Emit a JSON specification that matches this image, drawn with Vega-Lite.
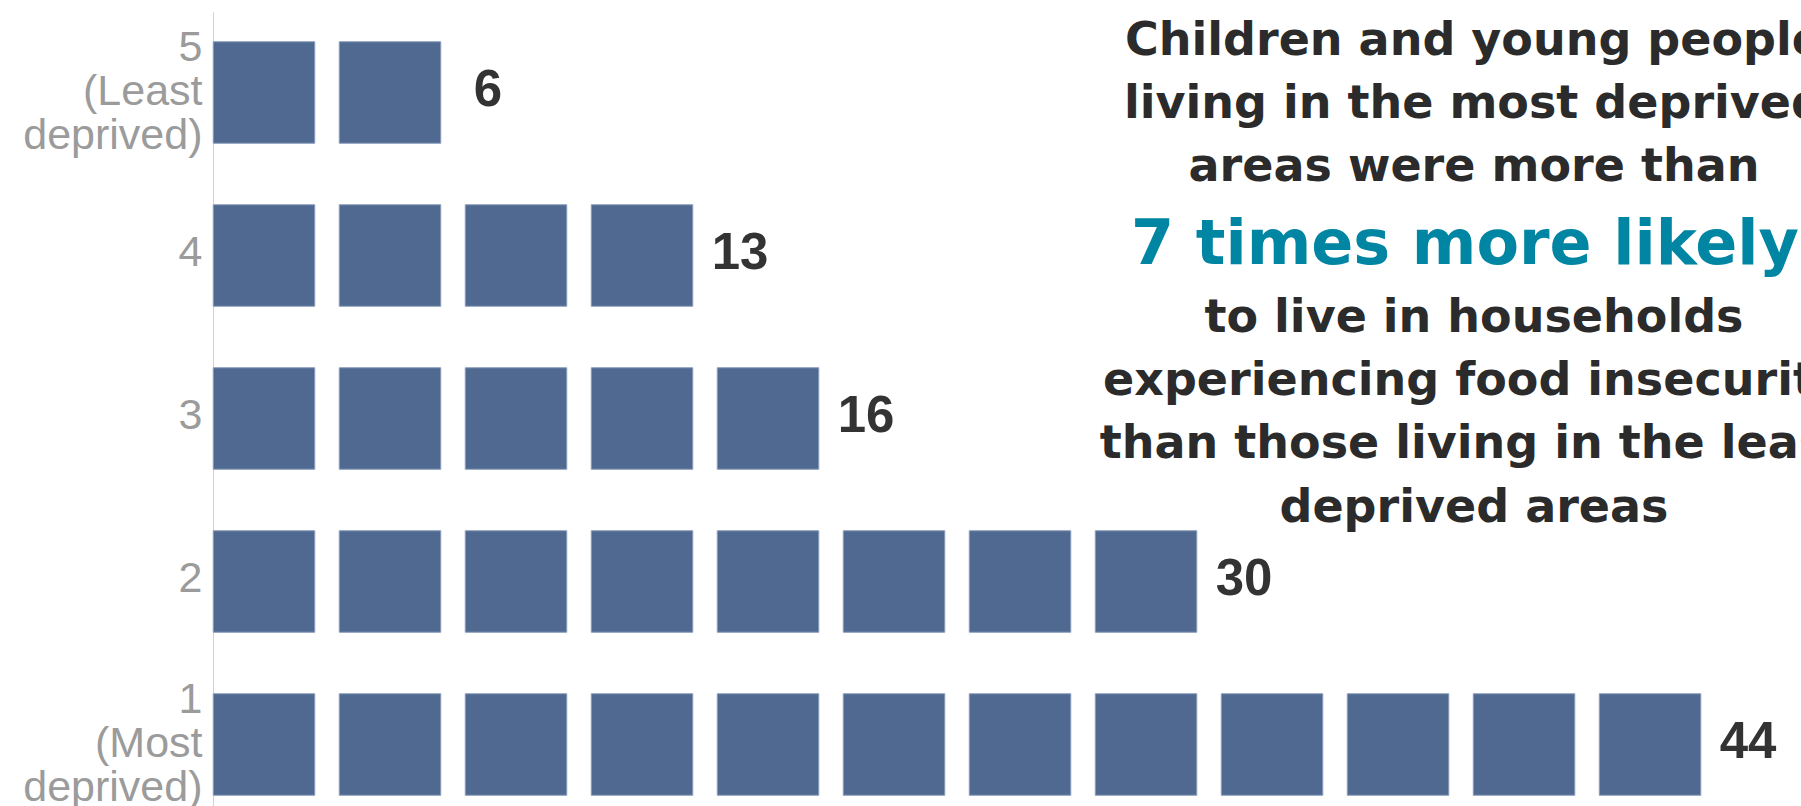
{
  "$schema": "https://vega.github.io/schema/vega-lite/v6.json",
  "width": 1588,
  "height": 794,
  "autosize": {"type": "none"},
  "padding": {"left": 213, "top": 12, "right": 0, "bottom": 0},
  "background": "white",
  "config": {"view": {"stroke": null}},
  "datasets": {
    "squares": [
      {"level": 5, "col": 1}, {"level": 5, "col": 2},
      {"level": 4, "col": 1}, {"level": 4, "col": 2}, {"level": 4, "col": 3}, {"level": 4, "col": 4},
      {"level": 3, "col": 1}, {"level": 3, "col": 2}, {"level": 3, "col": 3}, {"level": 3, "col": 4}, {"level": 3, "col": 5},
      {"level": 2, "col": 1}, {"level": 2, "col": 2}, {"level": 2, "col": 3}, {"level": 2, "col": 4}, {"level": 2, "col": 5}, {"level": 2, "col": 6}, {"level": 2, "col": 7}, {"level": 2, "col": 8},
      {"level": 1, "col": 1}, {"level": 1, "col": 2}, {"level": 1, "col": 3}, {"level": 1, "col": 4}, {"level": 1, "col": 5}, {"level": 1, "col": 6}, {"level": 1, "col": 7}, {"level": 1, "col": 8}, {"level": 1, "col": 9}, {"level": 1, "col": 10}, {"level": 1, "col": 11}, {"level": 1, "col": 12}
    ],
    "levels": [
      {"level": 5, "value": 6, "squares": 2},
      {"level": 4, "value": 13, "squares": 4},
      {"level": 3, "value": 16, "squares": 5},
      {"level": 2, "value": 30, "squares": 8},
      {"level": 1, "value": 44, "squares": 12}
    ]
  },
  "layer": [
    {
      "data": {"name": "squares"},
      "mark": {"type": "point", "shape": "square", "filled": true, "size": 10302, "fill": "#4f6991", "opacity": 1, "stroke": "#8a9dbb", "strokeWidth": 1},
      "encoding": {
        "x": {"field": "col", "type": "quantitative", "scale": {"domain": [0.5952, 13.198], "nice": false, "zero": false}, "axis": null},
        "y": {
          "field": "level", "type": "quantitative",
          "scale": {"domain": [0.6227, 5.4939], "nice": false, "zero": false},
          "axis": {
            "values": [1, 2, 3, 4, 5], "format": "d", "title": null, "ticks": false, "grid": false,
            "domainColor": "#d3d3d3", "domainWidth": 1,
            "labelFont": "Liberation Sans", "labelFontSize": 43, "labelColor": "#9b9b9b",
            "labelPadding": 11, "labelLineHeight": 44, "labelOverlap": false, "labelBaseline": "middle",
            "labelOffset": {"condition": {"test": "datum.value == 5 || datum.value == 1", "value": -45}, "value": -3},
            "labelExpr": "datum.value == 5 ? ['5', '(Least', 'deprived)'] : datum.value == 1 ? ['1', '(Most', 'deprived)'] : datum.label"
          }
        }
      }
    },
    {
      "data": {"name": "levels"},
      "mark": {"type": "text", "font": "Liberation Sans", "fontWeight": "bold", "fontSize": 51, "color": "#333333", "align": "center", "baseline": "middle", "dx": 98, "dy": -2},
      "encoding": {
        "x": {"field": "squares", "type": "quantitative"},
        "y": {"field": "level", "type": "quantitative"},
        "text": {"field": "value", "type": "quantitative"}
      }
    },
    {
      "data": {"values": [{}]},
      "mark": {"type": "text", "text": ["Children and young people", "living in the most deprived", "areas were more than"], "font": "DejaVu Sans", "fontWeight": "bold", "fontSize": 46, "lineHeight": 63, "color": "#2b2b2b", "align": "center", "baseline": "alphabetic", "dy": -37.5},
      "encoding": {
        "x": {"datum": 10.6027, "type": "quantitative"},
        "y": {"datum": 5, "type": "quantitative"}
      }
    },
    {
      "data": {"values": [{}]},
      "mark": {"type": "text", "text": "7 times more likely", "font": "DejaVu Sans", "fontWeight": "bold", "fontSize": 62, "color": "#0085a3", "align": "center", "baseline": "alphabetic", "dy": 8.5},
      "encoding": {
        "x": {"datum": 10.5315, "type": "quantitative"},
        "y": {"datum": 4, "type": "quantitative"}
      }
    },
    {
      "data": {"values": [{}]},
      "mark": {"type": "text", "text": ["to live in households", "experiencing food insecurity", "than those living in the least", "deprived areas"], "font": "DejaVu Sans", "fontWeight": "bold", "fontSize": 46, "lineHeight": 63.2, "color": "#2b2b2b", "align": "center", "baseline": "alphabetic", "dy": -86.5},
      "encoding": {
        "x": {"datum": 10.6027, "type": "quantitative"},
        "y": {"datum": 3, "type": "quantitative"}
      }
    }
  ]
}
